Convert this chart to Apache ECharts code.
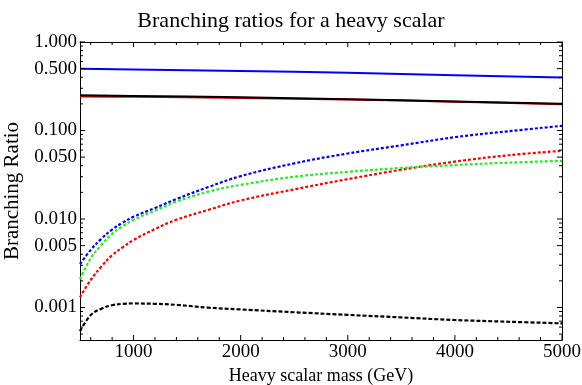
<!DOCTYPE html>
<html>
<head>
<meta charset="utf-8">
<script src="https://cdn.jsdelivr.net/npm/echarts@6/dist/echarts.min.js"></script>
<style>html,body{margin:0;padding:0;background:#fff}#c{width:582px;height:385px}</style>
</head>
<body>
<div id="c"></div>
<script>
// Heavy scalar mass (GeV)
const massSolid = [500, 1000, 2000, 3000, 4000, 5000];
const blueSolid = [0.50, 0.49, 0.47, 0.45, 0.422, 0.398];
const redSolid = [0.242, 0.240, 0.233, 0.224, 0.211, 0.198];
const blackSolid = [0.250, 0.246, 0.237, 0.226, 0.213, 0.200];

const massDotted = [500, 600, 700, 800, 900, 1000, 1200, 1400, 1700, 2000, 2500, 3000, 3500, 4000, 4500, 5000];
const blueDotted = [0.0031, 0.00447, 0.0060, 0.0076, 0.0091, 0.0106, 0.0133, 0.0168, 0.0230, 0.0305, 0.0425, 0.055, 0.068, 0.084, 0.098, 0.113];
const greenDotted = [0.00208, 0.0036, 0.0051, 0.0068, 0.0083, 0.0098, 0.01245, 0.0157, 0.0204, 0.0243, 0.0300, 0.0341, 0.0377, 0.0407, 0.0433, 0.0454];
const redDotted = [0.0013, 0.00205, 0.0029, 0.0039, 0.0048, 0.0058, 0.0077, 0.0098, 0.0127, 0.0162, 0.0216, 0.0282, 0.0360, 0.0445, 0.0525, 0.0589];
const blackDashed = [0.00054, 0.00082, 0.00097, 0.00106, 0.00110, 0.00111, 0.00110, 0.00107, 0.000995, 0.00095, 0.000883, 0.000825, 0.000772, 0.000722, 0.00069, 0.000662];

const xMajorTicks = [1000, 2000, 3000, 4000, 5000];
const xMinorTicks = [600, 800, 1200, 1400, 1600, 1800, 2200, 2400, 2600, 2800, 3200, 3400, 3600, 3800, 4200, 4400, 4600, 4800];
const yMajorTicks = [0.001, 0.005, 0.01, 0.05, 0.1, 0.5, 1];
const yMinorTicks = [0.0005, 0.0006, 0.0007, 0.0008, 0.0009, 0.002, 0.003, 0.004, 0.006, 0.007, 0.008, 0.009,
  0.02, 0.03, 0.04, 0.06, 0.07, 0.08, 0.09, 0.2, 0.3, 0.4, 0.6, 0.7, 0.8, 0.9];

const X_MIN = 500, X_MAX = 5000, Y_MIN = 0.000429, Y_MAX = 1;
const FONT = 'Liberation Serif';
const pair = (xs, ys) => xs.map((x, i) => [x, ys[i]]);

function xAx(pos, labels, name) {
  return {
    type: 'value', position: pos, min: X_MIN, max: X_MAX,
    axisLine: {show: true, onZero: false, lineStyle: {color: '#000', width: 1}},
    axisTick: {show: false},
    axisLabel: labels ? {show: true, customValues: xMajorTicks, color: '#000', fontFamily: FONT, fontSize: 19, margin: 3,
      formatter: v => String(v)} : {show: false},
    splitLine: {show: false},
    name: name || '', nameLocation: 'middle', nameGap: 20,
    nameTextStyle: {color: '#000', fontFamily: FONT, fontSize: 18}
  };
}
function yAx(pos, labels, name) {
  return {
    type: 'log', position: pos, min: Y_MIN, max: Y_MAX, logBase: 10,
    axisLine: {show: true, onZero: false, lineStyle: {color: '#000', width: 1}},
    axisTick: {show: false},
    axisLabel: labels ? {show: true, customValues: yMajorTicks, color: '#000', fontFamily: FONT, fontSize: 19, margin: 3,
      formatter: v => Number(v).toFixed(3)} : {show: false},
    splitLine: {show: false}, minorTick: {show: false},
    name: name || '', nameLocation: 'middle', nameGap: 39, nameRotate: 90,
    nameTextStyle: {color: '#000', fontFamily: FONT, fontSize: 21}
  };
}

// Frame tick marks: thin rect symbols placed through the axes' own scales
function tickMarks(points, size, offset) {
  return {
    type: 'scatter', data: points, symbol: 'rect', symbolSize: size, symbolOffset: offset,
    itemStyle: {color: '#000', opacity: 1}, silent: true, clip: false, z: 10,
    xAxisIndex: 0, yAxisIndex: 0, emphasis: {disabled: true}
  };
}
const onBottom = vs => vs.map(v => [v, Y_MIN]);
const onTop = vs => vs.map(v => [v, Y_MAX]);
const onLeft = vs => vs.map(v => [X_MIN, v]);
const onRight = vs => vs.map(v => [X_MAX, v]);

function line(xs, ys, color, type, width) {
  return {
    type: 'line', data: pair(xs, ys), showSymbol: false, smooth: 0.4, silent: true,
    lineStyle: {color: color, width: width, type: type}, xAxisIndex: 0, yAxisIndex: 0
  };
}

const MAJ = 5, MIN = 3;
const chart = echarts.init(document.getElementById('c'), null, {renderer: 'canvas'});
chart.setOption({
  animation: false,
  backgroundColor: '#fff',
  title: {text: 'Branching ratios for a heavy scalar', left: 'center', top: 5,
    textStyle: {color: '#000', fontFamily: FONT, fontSize: 22, fontWeight: 'normal'}},
  grid: {left: 80, right: 20, top: 42, bottom: 45,
    outerBounds: {left: -400, right: -400, top: -400, bottom: -400}},
  xAxis: [
    xAx('bottom', true, 'Heavy scalar mass (GeV)'),
    xAx('top', false)
  ],
  yAxis: [
    yAx('left', true, 'Branching Ratio'),
    yAx('right', false)
  ],
  series: [
    line(massSolid, blueSolid, '#0000ff', 'solid', 2),
    line(massSolid, redSolid, '#e00000', 'solid', 2),
    line(massSolid, blackSolid, '#000000', 'solid', 2),
    line(massDotted, blueDotted, '#0000ff', [3, 2], 2.2),
    line(massDotted, redDotted, '#ff0000', [3, 2], 2.2),
    line(massDotted, greenDotted, '#22ee22', [3, 2], 2.2),
    line(massDotted, blackDashed, '#000000', [4, 2], 2.2),
    tickMarks(onBottom(xMajorTicks), [1, MAJ], [0, -MAJ / 2]),
    tickMarks(onBottom(xMinorTicks), [1, MIN], [0, -MIN / 2]),
    tickMarks(onTop(xMajorTicks), [1, MAJ], [0, MAJ / 2]),
    tickMarks(onTop(xMinorTicks), [1, MIN], [0, MIN / 2]),
    tickMarks(onLeft(yMajorTicks), [MAJ, 1], [MAJ / 2, 0]),
    tickMarks(onLeft(yMinorTicks), [MIN, 1], [MIN / 2, 0]),
    tickMarks(onRight(yMajorTicks), [MAJ, 1], [-MAJ / 2, 0]),
    tickMarks(onRight(yMinorTicks), [MIN, 1], [-MIN / 2, 0])
  ]
});
</script>
</body>
</html>
